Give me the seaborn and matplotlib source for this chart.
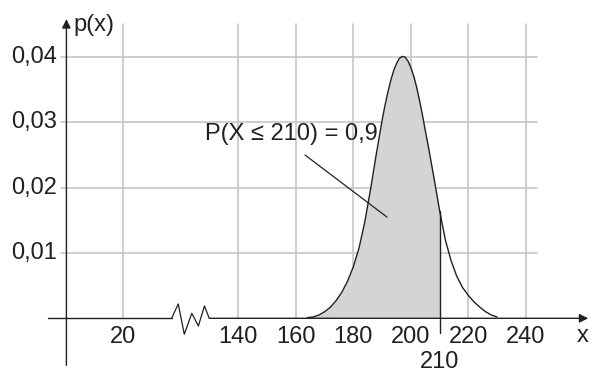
import matplotlib
matplotlib.use('Agg')
import matplotlib.pyplot as plt
import seaborn as sns
import pandas as pd

# density curve
x_vals = [164, 166, 168, 170, 172, 174, 176, 178, 180, 182, 184, 186, 188, 190, 191, 192,
          193, 194, 195, 196, 197, 198, 199, 200, 201, 202, 203, 204, 205, 206, 208, 210,
          212, 214, 216, 218, 220, 222, 224, 226, 228, 230]
p_vals = [0.0001, 0.0002, 0.0005, 0.0010, 0.0017, 0.0027, 0.0040, 0.0057, 0.0079, 0.0108,
          0.0148, 0.0198, 0.0252, 0.0303, 0.0326, 0.0346, 0.0364, 0.0379, 0.0390, 0.0398,
          0.0401, 0.0400, 0.0394, 0.0384, 0.0371, 0.0354, 0.0334, 0.0312, 0.0288, 0.0265,
          0.0216, 0.0165, 0.0120, 0.0088, 0.0064, 0.0047, 0.0035, 0.0025, 0.0017, 0.0010,
          0.0005, 0.0002]
x_limit = 210

# axis ticks (20 sits left of the axis break, shifted by 80)
break_shift = 80
x_ticks = [20, 140, 160, 180, 200, 220, 240]
y_ticks = [0.01, 0.02, 0.03, 0.04]
y_labels = ['0,01', '0,02', '0,03', '0,04']
annot_text = 'P(X \u2264 210) = 0,9'

df = pd.DataFrame({'x': x_vals, 'p': p_vals})

sns.set_theme(style='white')
plt.rcParams['font.family'] = ['Liberation Sans', 'DejaVu Sans']

ink = '#231f20'
grid_c = '#c6c6c8'
fs = 17

fig = plt.figure(figsize=(5.94, 3.74), dpi=100)
ax = fig.add_axes([0, 0, 1, 1])
ax.set_xlim(57.1, 263.7)
ax.set_ylim(-0.00853, 0.04874)
ax.axis('off')

# grid
x_pos = [t + break_shift if t < 100 else t for t in x_ticks]
for xp in x_pos:
    ax.plot([xp, xp], [0, 0.0451], color=grid_c, lw=1.2, zorder=0)
for yt in y_ticks:
    ax.plot([78.4, 244], [yt, yt], color=grid_c, lw=1.2, zorder=0)

# shaded area and curve
sub = df[df['x'] <= x_limit]
ax.fill_between(sub['x'], 0, sub['p'], color='#d3d4d6', lw=0, zorder=1)
sns.lineplot(data=df, x='x', y='p', color=ink, lw=1.0, ax=ax, zorder=3)
p_at = df.loc[df['x'] == x_limit, 'p'].iloc[0]
ax.plot([x_limit, x_limit], [-0.00225, p_at], color=ink, lw=1.0, zorder=3)

# x axis with break
ax.plot([73.9, 116.8], [0, 0], color=ink, lw=1.0, zorder=4)
zz_x = [116.8, 119.1, 121.2, 123.8, 126.1, 128.2, 129.9]
zz_y = [0, 0.0022, -0.00245, 0.00077, -0.00118, 0.00188, 0]
ax.plot(zz_x, zz_y, color=ink, lw=0.9, zorder=4)
ax.annotate('', xy=(261.7, 0), xytext=(129.9, 0),
            arrowprops=dict(arrowstyle='-|>', color=ink, lw=1.0, mutation_scale=13,
                            shrinkA=0, shrinkB=0), zorder=4)
# y axis
ax.annotate('', xy=(80.2, 0.0458), xytext=(80.2, -0.0072),
            arrowprops=dict(arrowstyle='-|>', color=ink, lw=1.0, mutation_scale=13,
                            shrinkA=0, shrinkB=0), zorder=4)

# labels
for xp, t in zip(x_pos, x_ticks):
    ax.text(xp, -0.00286, str(t), ha='center', va='center', fontsize=fs, color=ink)
ax.text(x_limit, -0.0067, str(x_limit), ha='center', va='center', fontsize=fs, color=ink)
for yt, lab in zip(y_ticks, y_labels):
    ax.text(76.9, yt, lab, ha='right', va='center', fontsize=fs, color=ink)
ax.text(82.5, 0.0449, 'p(x)', ha='left', va='center', fontsize=fs, color=ink)
ax.text(259.9, -0.0027, 'x', ha='center', va='center', fontsize=fs, color=ink)

ax.text(128.4, 0.0282, annot_text, ha='left', va='center', fontsize=fs, color=ink)
ax.plot([163.2, 191.7], [0.0250, 0.0155], color=ink, lw=0.9, zorder=5)

fig.savefig('out.png', dpi=100)
